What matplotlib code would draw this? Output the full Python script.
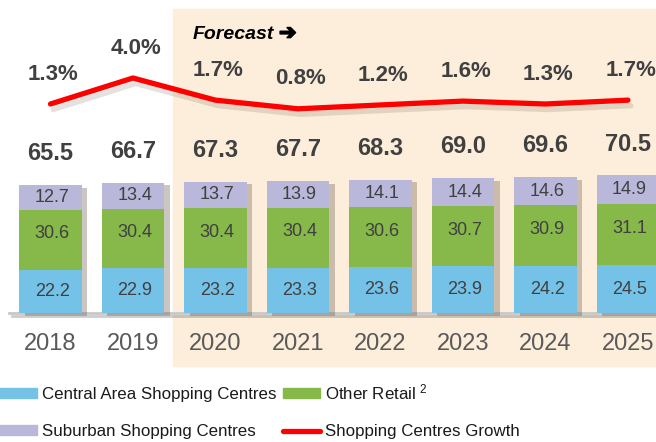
import matplotlib
matplotlib.use('Agg')
import matplotlib.pyplot as plt
import matplotlib.patheffects as pe
from matplotlib.patches import Patch
from matplotlib.lines import Line2D

plt.rcParams['font.family'] = ['Liberation Sans', 'DejaVu Sans']

years = ['2018', '2019', '2020', '2021', '2022', '2023', '2024', '2025']
central = [22.2, 22.9, 23.2, 23.3, 23.6, 23.9, 24.2, 24.5]
other = [30.6, 30.4, 30.4, 30.4, 30.6, 30.7, 30.9, 31.1]
suburban = [12.7, 13.4, 13.7, 13.9, 14.1, 14.4, 14.6, 14.9]
totals = [65.5, 66.7, 67.3, 67.7, 68.3, 69.0, 69.6, 70.5]
growth = [1.3, 4.0, 1.7, 0.8, 1.2, 1.6, 1.3, 1.7]

blue = '#74C2E8'
green = '#86B84A'
purple = '#B9B8DA'
red = '#FF0000'
shade = '#FDEEDB'
txt = '#404040'

fig = plt.figure(figsize=(6.56, 4.42), dpi=100)
ax = fig.add_axes([0, 0, 1, 1])
ax.set_xlim(-0.612, 7.340)
ax.set_ylim(-66.0, 160.2)
ax.axis('off')

# forecast area
ax.axvspan(1.485, 8, ymin=0.172, ymax=0.980, color=shade, zorder=0)
ax.text(1.72, 142.5, 'Forecast', fontsize=14, fontweight='bold',
        fontstyle='italic', color='black', va='center', ha='left')
ax.text(2.77, 143.0, '\u2794', fontsize=15, color='black', va='center', ha='left',
        path_effects=[pe.withStroke(linewidth=1.2, foreground='black')])

# baseline
ax.axhline(0, xmin=9 / 656, color='#C8C8C8', lw=2, zorder=1,
           path_effects=[pe.SimpleLineShadow(offset=(2, -2), alpha=0.2), pe.Normal()])

x = list(range(len(years)))
bottom2 = [a + b for a, b in zip(central, other)]
# one shadow per whole stack
ax.bar(x, totals, width=0.76, color=purple, zorder=2,
       path_effects=[pe.SimplePatchShadow(offset=(4, -2), shadow_rgbFace='#6b5d50', alpha=0.35),
                     pe.Normal()])
ax.bar(x, central, width=0.76, color=blue, zorder=3)
ax.bar(x, other, width=0.76, bottom=central, color=green, zorder=3)
ax.bar(x, suburban, width=0.76, bottom=bottom2, color=purple, zorder=3)

for i in x:
    ax.text(i + 0.02, central[i] / 2, f'{central[i]:.1f}', ha='center', va='center',
            fontsize=13, color=txt, zorder=5)
    ax.text(i + 0.02, central[i] + other[i] / 2 + 3, f'{other[i]:.1f}', ha='center', va='center',
            fontsize=13, color=txt, zorder=5)
    ax.text(i + 0.02, bottom2[i] + suburban[i] / 2, f'{suburban[i]:.1f}', ha='center', va='center',
            fontsize=13, color=txt, zorder=5)
    ax.annotate(f'{totals[i]:.1f}', (i, totals[i]), xytext=(0, 22.5), textcoords='offset points',
                ha='center', va='center', fontsize=17, fontweight='bold', color=txt, zorder=5)
    ax.annotate(years[i], (i, 0), xytext=(0, -22.5), textcoords='offset points',
                ha='center', va='center', fontsize=17, color='#595959', zorder=5)

# growth line
ax2 = ax.twinx()
ax2.set_ylim(-33.8, 12.1)
ax2.axis('off')
ax2.plot(x, growth, color=red, lw=3.8, solid_capstyle='round', solid_joinstyle='round', zorder=4,
         path_effects=[pe.SimpleLineShadow(offset=(2, -4), shadow_color='#6b5d50', alpha=0.18),
                       pe.Normal()])
for i in x:
    ax2.annotate(f'{growth[i]:.1f}%', (i, growth[i]), xytext=(2, 21.5), textcoords='offset points',
                 ha='center', va='center', fontsize=16, fontweight='bold', color=txt)

handles = [Patch(color=blue), Patch(color=purple), Patch(color=green),
           Line2D([], [], color=red, lw=3.8, solid_capstyle='round')]
labels = ['Central Area Shopping Centres', 'Suburban Shopping Centres',
          'Other Retail $^{2}$', 'Shopping Centres Growth']
plt.rcParams['mathtext.fontset'] = 'custom'
plt.rcParams['mathtext.rm'] = 'Liberation Sans'
plt.rcParams['mathtext.default'] = 'rm'
fig.legend(handles, labels, loc='upper left', bbox_to_anchor=(0.0, 0.135), ncol=2,
           frameon=False, fontsize=12.2, handlelength=2.2, handleheight=0.55,
           handletextpad=0.25, columnspacing=0.42, labelspacing=1.3,
           borderpad=0, borderaxespad=0, labelcolor='#1a1a1a')

fig.savefig('out.png', dpi=100)
